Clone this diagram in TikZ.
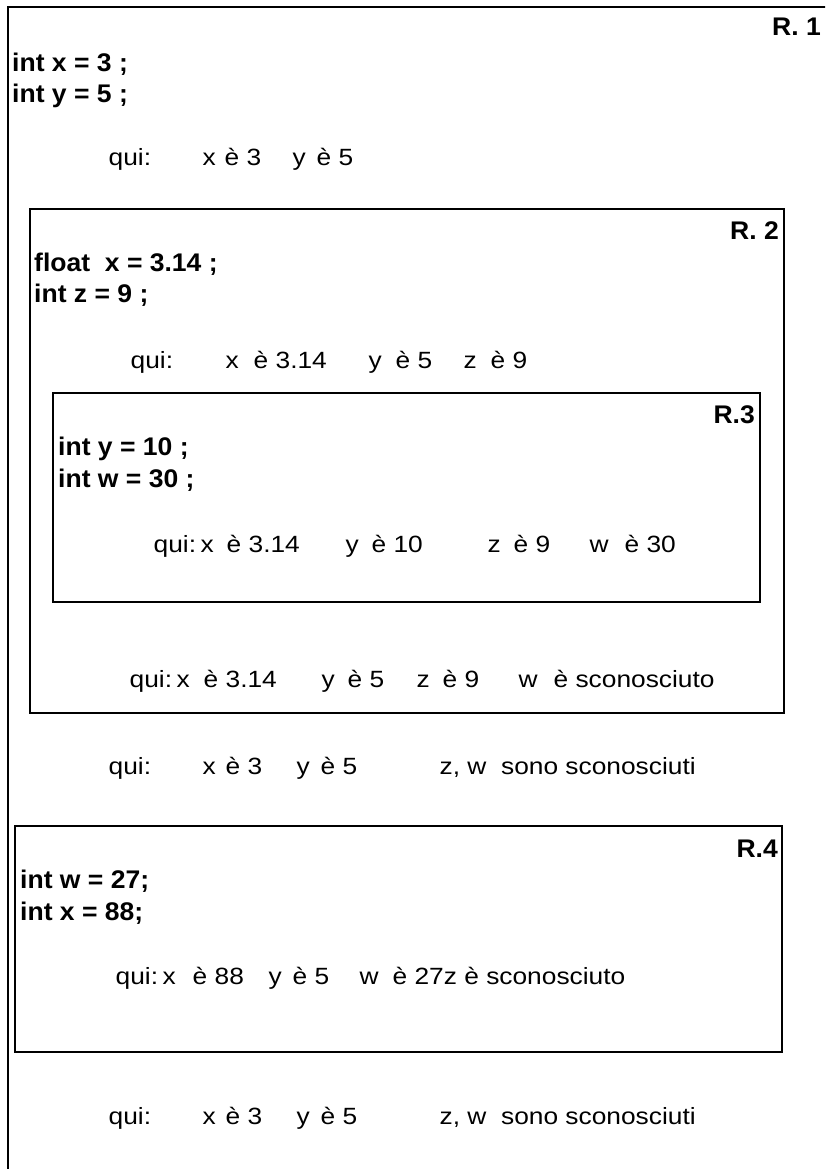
\documentclass[tikz,border=0pt]{standalone}
\usepackage{fontspec}
\newfontfamily\txtfam[FakeStretch=1.12]{Liberation Sans}
\newfontfamily\codefam[FakeStretch=1.04]{Liberation Sans}
\newcommand\putat[2]{\rlap{\hspace*{#1pt}#2}}
\begin{document}
\begin{tikzpicture}[x=1pt,y=-1pt,
  box/.style={draw=black, line width=1.6pt},
  code/.style={anchor=base west, inner sep=0pt, font={\codefam\bfseries\fontsize{25.5}{30}\selectfont}},
  lbl/.style={anchor=base east, inner sep=0pt, font={\codefam\bfseries\fontsize{25.5}{30}\selectfont}},
  txt/.style={anchor=base west, inner sep=0pt, font={\txtfam\fontsize{23.5}{28}\selectfont}}]
\useasboundingbox (0,0) rectangle (825,1169);
\begin{scope}
\clip (0,0) rectangle (825,1169);
\draw[box] (8,7) rectangle (870,1220);
\end{scope}
% boxes
\draw[box] (30,209) rectangle (784,713);
\draw[box] (53,393) rectangle (760,602);
\draw[box] (15,826) rectangle (782,1052);
% labels
\node[lbl] (r1) at (821,36) {R. 1};
\node[lbl] (r2) at (779,239) {R. 2};
\node[lbl] (r3) at (755,423) {R.3};
\node[lbl] (r4) at (778,857) {R.4};
% code
\node[code] (c1) at (12,72) {int x = 3 ;};
\node[code] (c2) at (12,103) {int y = 5 ;};
\node[code] (c3) at (34,271) {float\ \ x = 3.14 ;};
\node[code] (c4) at (34,302) {int z = 9 ;};
\node[code] (c5) at (58,455) {int y = 10 ;};
\node[code] (c6) at (58,487) {int w = 30 ;};
\node[code] (c7) at (20,888) {int w = 27;};
\node[code] (c8) at (20,920) {int x = 88;};
% qui lines
\node[txt] (q1) at (108,166) {\putat{0}{qui:}\putat{94}{x}\putat{116}{è 3}\putat{184}{y}\putat{208}{è 5}};
\node[txt] (q2) at (130,368) {\putat{0}{qui:}\putat{95}{x}\putat{123}{è 3.14}\putat{238}{y}\putat{265}{è 5}\putat{333}{z}\putat{360}{è 9}};
\node[txt] (q3) at (153,552) {\putat{0}{qui:}\putat{47}{x}\putat{73}{è 3.14}\putat{192}{y}\putat{218}{è 10}\putat{334}{z}\putat{360}{è 9}\putat{436}{w}\putat{471}{è 30}};
\node[txt] (q4) at (129,687) {\putat{0}{qui:}\putat{47}{x}\putat{74}{è 3.14}\putat{192}{y}\putat{218}{è 5}\putat{287}{z}\putat{313}{è 9}\putat{389}{w}\putat{424}{è sconosciuto}};
\node[txt] (q5) at (108,774) {\putat{0}{qui:}\putat{94}{x}\putat{117}{è 3}\putat{188}{y}\putat{212}{è 5}\putat{331}{z, w\ \ sono sconosciuti}};
\node[txt] (q6) at (115,984) {\putat{0}{qui:}\putat{47}{x}\putat{77}{è 88}\putat{153}{y}\putat{177}{è 5}\putat{244}{w}\putat{277}{è 27z è sconosciuto}};
\node[txt] (q7) at (108,1124) {\putat{0}{qui:}\putat{94}{x}\putat{117}{è 3}\putat{188}{y}\putat{212}{è 5}\putat{331}{z, w\ \ sono sconosciuti}};
\end{tikzpicture}
\end{document}
